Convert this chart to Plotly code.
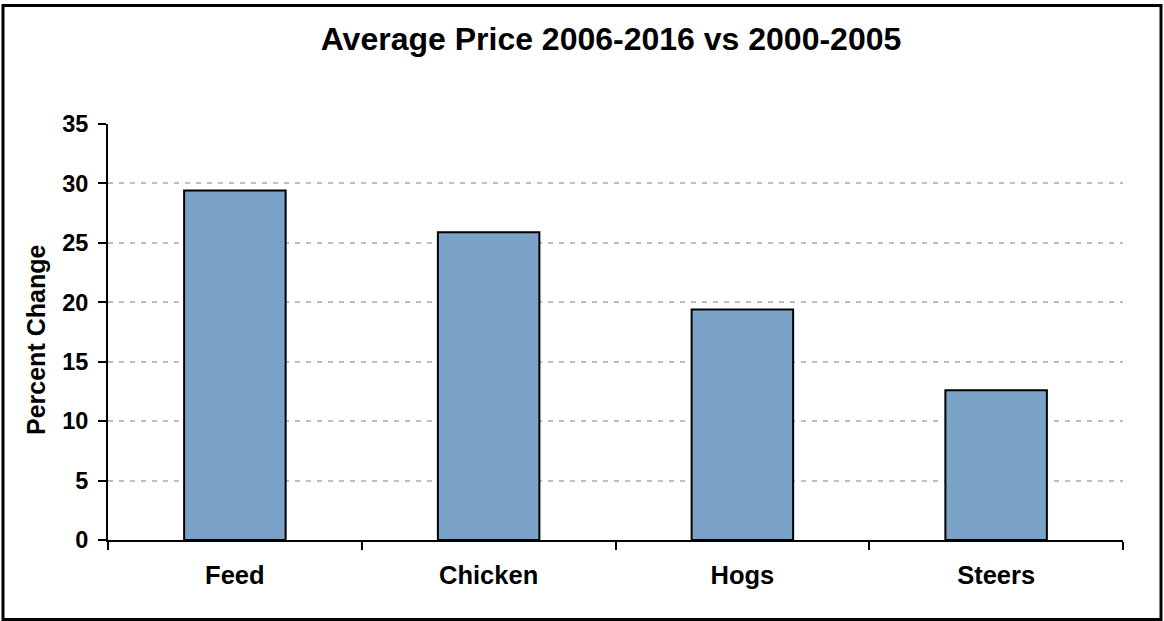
import plotly.graph_objects as go

# Chart data
categories = ["Feed", "Chicken", "Hogs", "Steers"]
pct_change = [29.4, 25.9, 19.4, 12.6]
y_ticks = [0, 5, 10, 15, 20, 25, 30, 35]

W, H = 1164, 621
ML, MR, MT, MB = 108, 41, 124, 81
PW, PH = W - ML - MR, H - MT - MB


def px_x(px):
    return (px - ML) / PW


def px_y(py):
    return (H - MB - py) / PH


FONT = "Liberation Sans, Arial, sans-serif"

fig = go.Figure(
    go.Bar(
        x=categories,
        y=pct_change,
        marker=dict(color="#7BA3C9", line=dict(color="black", width=2)),
        hoverinfo="x+y",
    )
)

fig.update_layout(
    width=W,
    height=H,
    margin=dict(l=ML, r=MR, t=MT, b=MB),
    paper_bgcolor="white",
    plot_bgcolor="white",
    bargap=0.6,
    showlegend=False,
    font=dict(family=FONT, color="black"),
    title=dict(
        text="<b>Average Price 2006-2016 vs 2000-2005</b>",
        font=dict(size=32, family=FONT, color="black"),
        x=611 / W,
        xanchor="center",
        xref="container",
        y=1 - 39 / H,
        yanchor="middle",
        yref="container",
    ),
    xaxis=dict(
        showline=True,
        linecolor="black",
        linewidth=2,
        ticks="outside",
        tickson="boundaries",
        ticklen=8,
        tickwidth=2,
        tickcolor="black",
        tickfont=dict(size=25.5, family=FONT, color="black"),
        ticklabelstandoff=11,
        showgrid=False,
        tickprefix="<b>",
        ticksuffix="</b>",
    ),
    yaxis=dict(
        range=[0, 35],
        tickvals=y_ticks,
        ticktext=[f"<b>{v}</b>" for v in y_ticks],
        showline=True,
        linecolor="black",
        linewidth=2,
        ticks="outside",
        ticklen=8,
        tickwidth=2,
        tickcolor="black",
        tickfont=dict(size=23.5, family=FONT, color="black"),
        ticklabelstandoff=5,
        showgrid=True,
        gridcolor="#BEBEBE",
        gridwidth=1.5,
        griddash="5px,6px",
        zeroline=False,
    ),
    annotations=[
        dict(
            text="<b>Percent Change</b>",
            textangle=-90,
            x=px_x(36),
            y=px_y(340),
            xref="paper",
            yref="paper",
            xanchor="center",
            yanchor="middle",
            showarrow=False,
            font=dict(size=25, family=FONT, color="black"),
        )
    ],
    shapes=[
        dict(
            type="rect",
            xref="paper",
            yref="paper",
            x0=px_x(3),
            x1=px_x(1161),
            y0=px_y(619.5),
            y1=px_y(5.5),
            line=dict(color="black", width=3),
            fillcolor="rgba(0,0,0,0)",
            layer="above",
        )
    ],
)

fig.write_html("out.html")
